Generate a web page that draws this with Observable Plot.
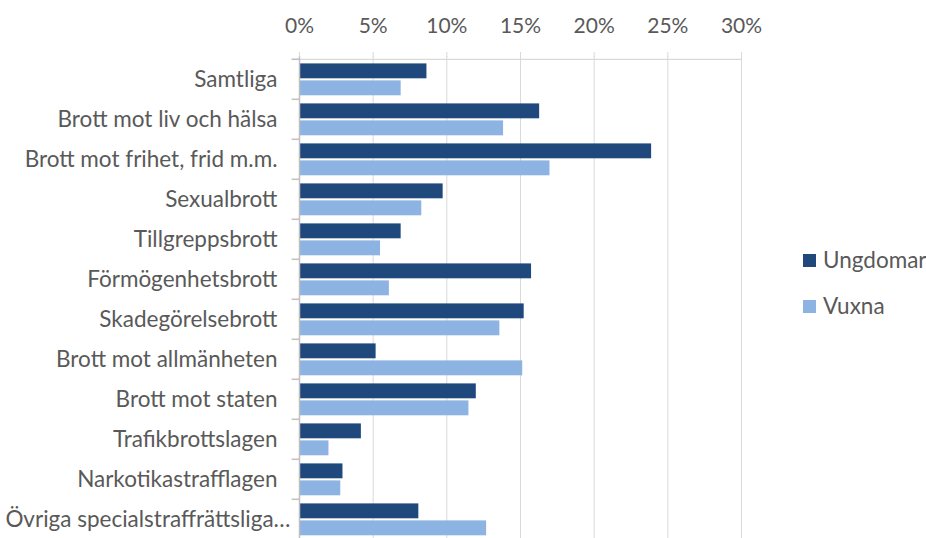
<!DOCTYPE html>
<html>
<head>
<meta charset="utf-8">
<script src="https://cdn.jsdelivr.net/npm/d3@7"></script>
<script src="https://cdn.jsdelivr.net/npm/@observablehq/plot@0.6"></script>
<style>
  html, body { margin: 0; padding: 0; background: #fff; overflow: hidden; }
  #wrap { position: relative; width: 926px; height: 538px; overflow: hidden; }
  .legend { position: absolute; left: 803px; font-family: Lato, sans-serif; font-size: 22.5px; line-height: 28px; color: #595959; display: flex; align-items: center; white-space: nowrap; }
  .legend span.sw { display: inline-block; width: 13px; height: 13px; margin-right: 7px; }
</style>
</head>
<body>
<div id="wrap"></div>
<script>
const categories = [
  "Samtliga",
  "Brott mot liv och hälsa",
  "Brott mot frihet, frid m.m.",
  "Sexualbrott",
  "Tillgreppsbrott",
  "Förmögenhetsbrott",
  "Skadegörelsebrott",
  "Brott mot allmänheten",
  "Brott mot staten",
  "Trafikbrottslagen",
  "Narkotikastrafflagen",
  "Övriga specialstraffrättsliga…"
];
const seriesNames = ["Ungdomar", "Vuxna"];
const ungdomar = [8.65, 16.3, 23.9, 9.75, 6.9, 15.75, 15.25, 5.2, 12.0, 4.2, 2.95, 8.1];
const vuxna    = [6.9, 13.85, 17.0, 8.3, 5.5, 6.1, 13.6, 15.15, 11.5, 2.0, 2.8, 12.7];
const xTicks = [0, 5, 10, 15, 20, 25, 30];
const xTickLabels = ["0%", "5%", "10%", "15%", "20%", "25%", "30%"];
const colors = ["#1f497d", "#8db3e2"];

const rowsU = categories.map((c, i) => ({category: c, value: ungdomar[i]}));
const rowsV = categories.map((c, i) => ({category: c, value: vuxna[i]}));
const lastCat = categories[categories.length - 1];

const font = "Lato, sans-serif";
const grey = "#595959";

const chart = Plot.plot({
  width: 926,
  height: 541,
  marginTop: 56,
  marginBottom: 0,
  marginLeft: 299,
  marginRight: 185,
  style: {fontFamily: font, background: "white"},
  x: {domain: [0, 30], axis: null, label: null},
  y: {domain: categories, type: "band", padding: 0, axis: null, label: null},
  marks: [
    Plot.ruleX(xTicks.slice(1), {stroke: "#d9d9d9", strokeWidth: 1}),
    Plot.barX(rowsU, {y: "category", x: "value", fill: colors[0], insetTop: 4.4, insetBottom: 20.7}),
    Plot.barX(rowsV, {y: "category", x: "value", fill: colors[1], insetTop: 21.4, insetBottom: 3.7}),
    // top axis line
    Plot.ruleY([categories[0]], {y: d => d, x1: -0.5, x2: 30, dy: -20.2, stroke: "#d9d9d9", strokeWidth: 1.2}),
    // left axis line
    Plot.ruleX([0], {stroke: "#bfbfbf", strokeWidth: 1.5}),
    // left tick marks at band boundaries
    Plot.ruleY(categories, {y: d => d, x1: -0.5, x2: 0, dy: -20.2, stroke: "#bfbfbf", strokeWidth: 1.5}),
    Plot.axisX(xTicks, {anchor: "top", label: null, tickSize: 5, tickPadding: 19, stroke: "#d9d9d9",
      tickFormat: d => xTickLabels[xTicks.indexOf(d)], fontSize: 21, fill: grey, fontFamily: font}),
    Plot.text(categories.filter(c => c !== lastCat), {y: d => d, x: () => 0, text: d => d, dx: -22,
      textAnchor: "end", fontSize: 22.5, fill: grey, fontFamily: font}),
    Plot.text([lastCat], {y: d => d, x: () => 0, text: d => d, dx: -9,
      textAnchor: "end", fontSize: 22.5, fill: grey, fontFamily: font})
  ]
});

const wrap = document.getElementById("wrap");
wrap.appendChild(chart);

seriesNames.forEach((name, i) => {
  const div = document.createElement("div");
  div.className = "legend";
  div.style.top = (i === 0 ? 246 : 292) + "px";
  const sw = document.createElement("span");
  sw.className = "sw";
  sw.style.background = colors[i];
  div.appendChild(sw);
  div.appendChild(document.createTextNode(name));
  wrap.appendChild(div);
});
</script>
</body>
</html>
